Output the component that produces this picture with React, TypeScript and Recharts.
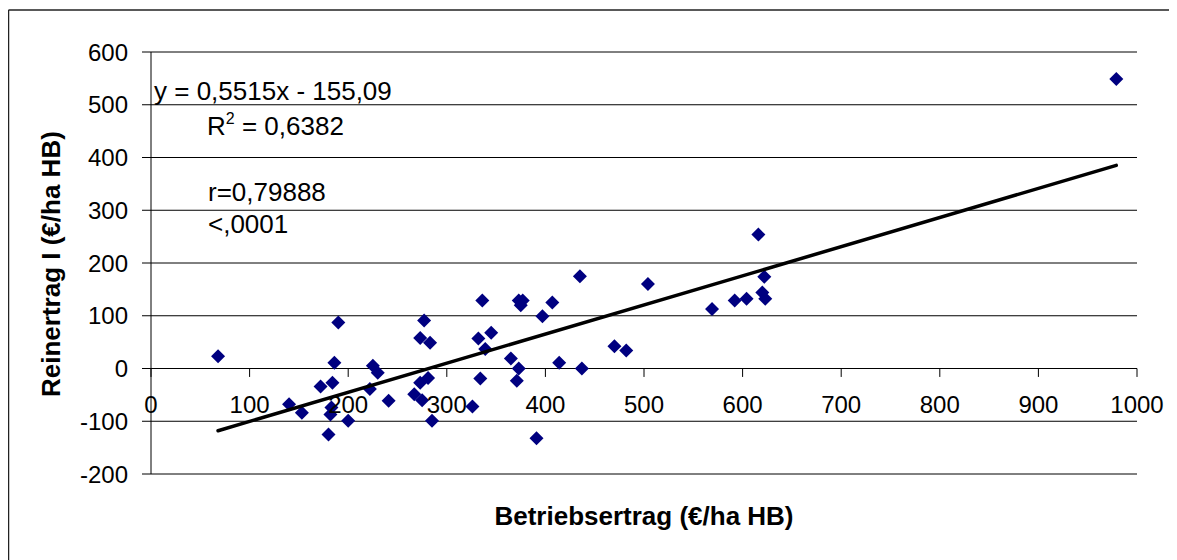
import { CartesianGrid, ReferenceLine, Scatter, ScatterChart, XAxis, YAxis } from "recharts";

// Betriebsertrag (x) and Reinertrag I (y), €/ha HB
const betriebsertrag = [
  68, 140, 153, 172, 180, 182, 183, 184, 186, 190, 200, 222, 225, 230, 241, 267, 273, 273, 275, 277,
  281, 283, 285, 326, 332, 334, 336, 339, 345, 365, 371, 373, 373, 375, 377, 391, 397, 407, 414, 435,
  437, 470, 482, 504, 569, 592, 604, 616, 620, 622, 623, 979,
];
const reinertrag = [
  23, -68, -84, -34, -125, -87, -74, -27, 11, 87, -99, -39, 5, -8, -61, -49, 58, -27, -60, 91,
  -18, 49, -99, -72, 57, -19, 129, 37, 68, 19, -23, 0, 129, 120, 129, -132, 99, 125, 11, 175,
  0, 42, 34, 160, 113, 129, 132, 254, 144, 174, 132, 549,
];
const points = betriebsertrag.map((x, i) => ({ x, y: reinertrag[i] }));

// linear trend end points
const trend = [
  { x: 68, y: -118 },
  { x: 979, y: 385 },
];

const xTicks = [0, 100, 200, 300, 400, 500, 600, 700, 800, 900, 1000];
const yTicks = [-200, -100, 0, 100, 200, 300, 400, 500, 600];

const FONT = '"Liberation Sans", Arial, sans-serif';
const INK = "#000";
const NAVY = "#000080";

function Diamond(props: any) {
  const { cx, cy } = props;
  if (cx == null || cy == null) return <g />;
  const r = 7;
  return <polygon points={`${cx},${cy - r} ${cx + r},${cy} ${cx},${cy + r} ${cx - r},${cy}`} fill={NAVY} />;
}

function YLabel(props: any) {
  const { viewBox } = props;
  const x = viewBox.x + 52;
  const y = 389;
  return (
    <text
      x={x}
      y={y}
      transform={`rotate(-90, ${x}, ${y})`}
      textAnchor="start"
      fontFamily={FONT}
      fontSize={26}
      fontWeight="bold"
      fill={INK}
    >
      Reinertrag I (€/ha HB)
    </text>
  );
}

function XLabel(props: any) {
  const { viewBox } = props;
  return (
    <text
      x={viewBox.x + viewBox.width / 2}
      y={viewBox.y + 51}
      textAnchor="middle"
      fontFamily={FONT}
      fontSize={26}
      fontWeight="bold"
      fill={INK}
    >
      Betriebsertrag (€/ha HB)
    </text>
  );
}

export default function App() {
  return (
    <div style={{ position: "relative", width: 1169, height: 552 }}>
      <ScatterChart width={1169} height={552} margin={{ top: 44, right: 40, bottom: 0, left: 0 }} style={{ fontFamily: FONT }}>
        <CartesianGrid horizontal vertical={false} stroke={INK} strokeWidth={1} />
        <XAxis
          type="number"
          dataKey="x"
          domain={[0, 1000]}
          ticks={xTicks}
          height={86}
          axisLine={false}
          tickLine={false}
          tick={false}
          label={<XLabel />}
        />
        <YAxis
          type="number"
          dataKey="y"
          domain={[-200, 600]}
          ticks={yTicks}
          width={143}
          axisLine={{ stroke: INK }}
          tickLine={{ stroke: INK }}
          tickSize={9}
          tickMargin={14}
          tick={{ fill: INK, fontSize: 24, fontFamily: FONT }}
          label={<YLabel />}
        />
        <ReferenceLine y={0} stroke={INK} strokeWidth={1} />
        {xTicks.map((v) => (
          <ReferenceLine
            key={v}
            segment={[
              { x: v, y: 0 },
              { x: v, y: -16 },
            ]}
            stroke={INK}
            strokeWidth={1}
            label={{ value: String(v), position: "bottom", offset: 19, fill: INK, fontSize: 24, fontFamily: FONT }}
          />
        ))}
        <Scatter data={points} shape={<Diamond />} isAnimationActive={false} />
        <Scatter
          data={trend}
          line={{ stroke: INK, strokeWidth: 3.5, strokeLinecap: "round" }}
          lineType="joint"
          shape={() => <g />}
          isAnimationActive={false}
        />
      </ScatterChart>
      <svg
        width={1169}
        height={552}
        style={{ position: "absolute", left: 0, top: 0, pointerEvents: "none" }}
      >
        <line x1={0.5} y1={2} x2={1169} y2={2} stroke="#222" strokeWidth={1.5} />
        <line x1={0.5} y1={2} x2={0.5} y2={552} stroke="#222" strokeWidth={1.5} />
        <g fontFamily={FONT} fontSize={26} fill={INK}>
          <text x={146} y={92}>y = 0,5515x - 155,09</text>
          <text x={199} y={127}>
            R<tspan fontSize={16} dy={-11}>2</tspan>
            <tspan dy={11}> = 0,6382</tspan>
          </text>
          <text x={200} y={193}>r=0,79888</text>
          <text x={200} y={225}>&lt;,0001</text>
        </g>
      </svg>
    </div>
  );
}
